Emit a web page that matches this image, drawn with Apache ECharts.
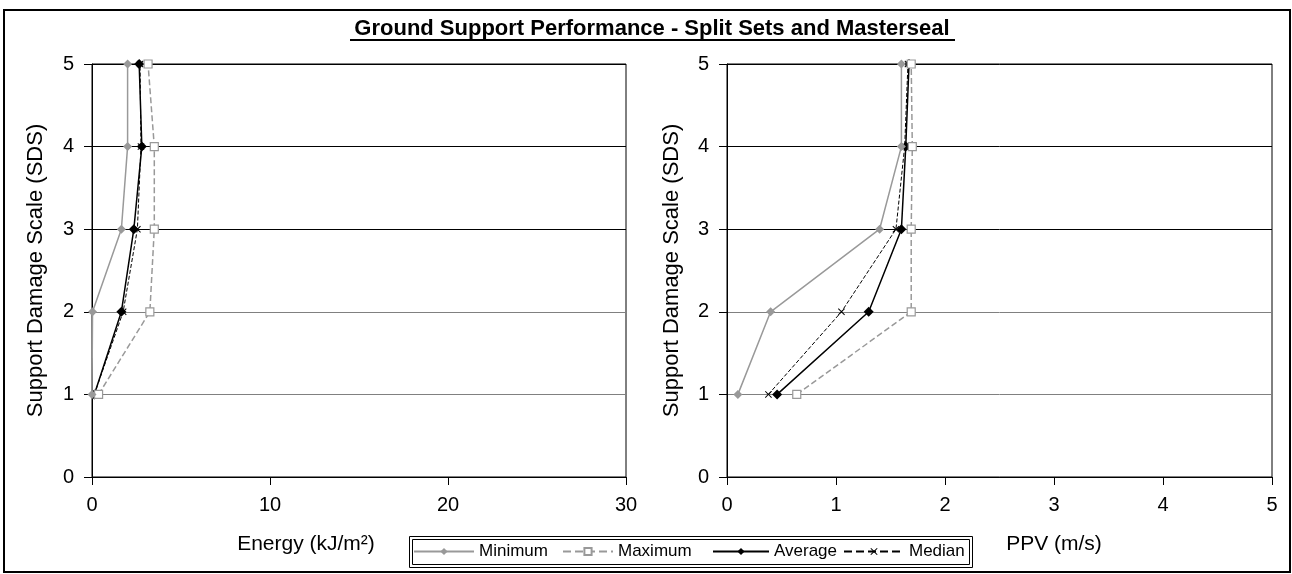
<!DOCTYPE html>
<html>
<head>
<meta charset="utf-8">
<script src="https://cdn.jsdelivr.net/npm/echarts@6/dist/echarts.min.js"></script>
<style>
html,body{margin:0;padding:0;background:#fff;}
#chart{width:1292px;height:574px;}
</style>
</head>
<body>
<div id="chart"></div>
<script>
// SDS levels (y values)
const sdsLevels = [1, 2, 3, 4, 5];
const seriesNames = ['Minimum', 'Maximum', 'Average', 'Median'];

// Energy (kJ/m2) per SDS level
const energyMin = [0.0, 0.03, 1.65, 2.0, 2.0];
const energyMax = [0.37, 3.25, 3.5, 3.5, 3.15];
const energyAvg = [0.13, 1.65, 2.35, 2.8, 2.65];
const energyMed = [0.13, 1.75, 2.55, 2.75, 2.7];

// PPV (m/s) per SDS level
const ppvMin = [0.10, 0.40, 1.40, 1.60, 1.60];
const ppvMax = [0.64, 1.69, 1.69, 1.70, 1.69];
const ppvAvg = [0.46, 1.30, 1.60, 1.64, 1.67];
const ppvMed = [0.38, 1.05, 1.55, 1.63, 1.66];

const yTicks = [0, 1, 2, 3, 4, 5];
const energyTicks = [0, 10, 20, 30];
const ppvTicks = [0, 1, 2, 3, 4, 5];

const titleText = 'Ground Support Performance - Split Sets and Masterseal';
const yName = 'Support Damage Scale (SDS)';
const energyName = 'Energy (kJ/m\u00B2)';
const ppvName = 'PPV (m/s)';

function pairs(xs) { return xs.map((v, i) => [v, sdsLevels[i]]); }

const FONT = '"Liberation Sans", Arial, sans-serif';
const xMarker = 'path://M0,1 L1,0 L5,4 L9,0 L10,1 L6,5 L10,9 L9,10 L5,6 L1,10 L0,9 L4,5 Z';

const styles = [
  { color: '#999999', type: 'solid', width: 1.5, symbol: 'diamond', size: 9, fill: '#999999' },
  { color: '#999999', type: 'dashed', width: 1.5, symbol: 'rect', size: 8, fill: '#ffffff' },
  { color: '#000000', type: 'solid', width: 1.5, symbol: 'diamond', size: 10, fill: '#000000' },
  { color: '#000000', type: 'dashed', width: 1, symbol: xMarker, size: 7, fill: '#000000' }
];

function makeSeries(name, idx, data, gi) {
  const s = styles[idx];
  return {
    name: name, type: 'line', xAxisIndex: gi, yAxisIndex: gi,
    data: pairs(data), symbol: s.symbol, symbolSize: s.size, showSymbol: true,
    lineStyle: { color: s.color, type: s.type, width: s.width },
    itemStyle: { color: s.fill, borderColor: s.color, borderWidth: idx === 1 ? 1.2 : 0 },
    z: 10 - idx, animation: false
  };
}

const splitColors = ['#000', '#808080', '#808080', '#000', '#000', '#000'];

function yAxis(gi, gap) {
  return {
    type: 'value', gridIndex: gi, min: 0, max: 5, interval: 1,
    name: yName, nameLocation: 'middle', nameGap: gap, nameRotate: 90,
    nameTextStyle: { fontFamily: FONT, fontSize: 22, color: '#000' },
    axisLine: { show: true, lineStyle: { color: '#000', width: 1 } },
    axisTick: { show: true, inside: false, length: 8, lineStyle: { color: '#000' } },
    axisLabel: { fontFamily: FONT, fontSize: 20, color: '#000', margin: 18,
      formatter: v => yTicks.includes(v) ? String(v) : '' },
    splitLine: { show: true, lineStyle: { color: splitColors, width: 1 } }
  };
}

function xAxis(gi, max, interval, ticks) {
  return {
    type: 'value', gridIndex: gi, min: 0, max: max, interval: interval,
    axisLine: { show: true, lineStyle: { color: '#000', width: 1 } },
    axisTick: { show: true, inside: false, length: 8, lineStyle: { color: '#000' } },
    axisLabel: { fontFamily: FONT, fontSize: 20, color: '#000', margin: 18,
      formatter: v => ticks.includes(v) ? String(v) : '' },
    splitLine: { show: false }
  };
}

const legendPos = [
  { left: 413, w: 60 },
  { left: 562, w: 50 },
  { left: 712, w: 56 },
  { left: 843, w: 60 }
];
const legends = seriesNames.map((n, i) => ({
  data: [n], left: legendPos[i].left, top: 543, itemWidth: legendPos[i].w, itemHeight: 9,
  textStyle: { fontFamily: FONT, fontSize: 17, color: '#000' },
  selectedMode: false, padding: 0
}));

const chart = echarts.init(document.getElementById('chart'), null, { renderer: 'canvas' });
chart.setOption({
  backgroundColor: '#fff',
  animation: false,
  grid: [
    { left: 92, top: 64, width: 534, height: 413, show: true, borderColor: '#000', borderWidth: 1, backgroundColor: 'transparent' },
    { left: 727, top: 64, width: 545, height: 413, show: true, borderColor: '#000', borderWidth: 1, backgroundColor: 'transparent' }
  ],
  xAxis: [xAxis(0, 30, 10, energyTicks), xAxis(1, 5, 1, ppvTicks)],
  yAxis: [yAxis(0, 45), yAxis(1, 44)],
  legend: legends,
  series: [
    makeSeries('Minimum', 0, energyMin, 0),
    makeSeries('Maximum', 1, energyMax, 0),
    makeSeries('Average', 2, energyAvg, 0),
    makeSeries('Median', 3, energyMed, 0),
    makeSeries('Minimum', 0, ppvMin, 1),
    makeSeries('Maximum', 1, ppvMax, 1),
    makeSeries('Average', 2, ppvAvg, 1),
    makeSeries('Median', 3, ppvMed, 1)
  ],
  graphic: [
    { type: 'rect', shape: { x: 4, y: 10, width: 1286, height: 562 }, style: { fill: 'none', stroke: '#000', lineWidth: 2 }, z: 100 },
    { type: 'text', x: 652, y: 29, style: { text: titleText, font: 'bold 22px ' + FONT, fill: '#000', textAlign: 'center', textVerticalAlign: 'middle' }, z: 100 },
    { type: 'line', shape: { x1: 350, y1: 40, x2: 955, y2: 40 }, style: { stroke: '#000', lineWidth: 2 }, z: 100 },
    { type: 'text', x: 306, y: 544, style: { text: energyName, font: '21px ' + FONT, fill: '#000', textAlign: 'center', textVerticalAlign: 'middle' }, z: 100 },
    { type: 'text', x: 1054, y: 544, style: { text: ppvName, font: '21px ' + FONT, fill: '#000', textAlign: 'center', textVerticalAlign: 'middle' }, z: 100 },
    { type: 'rect', shape: { x: 409.5, y: 536.5, width: 563, height: 31 }, style: { fill: '#fff', stroke: '#000', lineWidth: 1 }, z: -1 },
    { type: 'rect', shape: { x: 412.5, y: 539.5, width: 557, height: 25 }, style: { fill: 'none', stroke: '#000', lineWidth: 1 }, z: 100 }
  ]
});
</script>
</body>
</html>
